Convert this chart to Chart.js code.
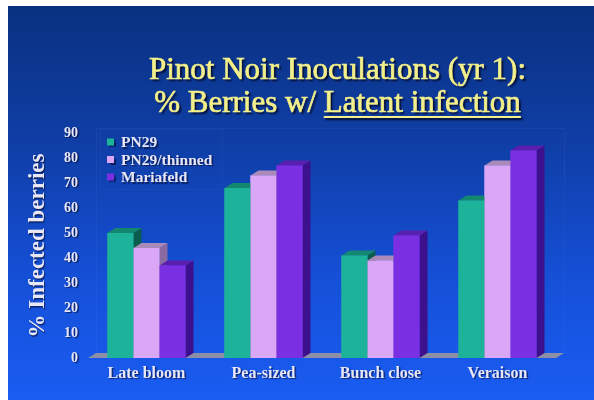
<!DOCTYPE html>
<html>
<head>
<meta charset="utf-8">
<script src="https://cdn.jsdelivr.net/npm/chart.js@4/dist/chart.umd.min.js"></script>
<style>
  html, body { margin: 0; padding: 0; background: #ffffff; }
  #slide { position: absolute; left: 8px; top: 6px; width: 586px; height: 394px;
    background: linear-gradient(to bottom, #0a3180 0%, #0f3ea6 35%, #1550d8 70%, #1a5cf2 100%); }
  #wrap { position: absolute; left: 0; top: 0; width: 594px; height: 400px; }
</style>
</head>
<body>
<div id="slide"></div>
<div id="wrap"><canvas id="c" width="594" height="400"></canvas></div>
<script>
// ---- data ----
const categories = ["Late bloom", "Pea-sized", "Bunch close", "Veraison"];
const seriesNames = ["PN29", "PN29/thinned", "Mariafeld"];
const pn29 = [50, 68, 41, 63];
const pn29Thinned = [44, 73, 39, 77];
const mariafeld = [37, 77, 49, 83];
const yTicks = [0, 10, 20, 30, 40, 50, 60, 70, 80, 90];
const titleLines = ["Pinot Noir Inoculations (yr 1):", "% Berries w/ Latent infection"];
const underlinedText = "Latent infection";
const yAxisTitle = "% Infected berries";

// ---- styles ----
const SERIF = "'Liberation Serif', 'Times New Roman', serif";
const frontColors = ["#1db39b", "#daa6f6", "#7b2fe2"];
const topColors = ["#13876f", "#a98ab9", "#5a1fae"];
const sideColors = ["#0c5c4e", "#8a6aa0", "#3d118e"];
const DX = 8, DY = 5;
const TEXT_COLOR = "#e9e7f6";

const threeD = {
  id: "threeD",
  beforeDraw(chart) {
    const ctx = chart.ctx;
    ctx.save();
    ctx.shadowColor = "rgba(0,0,25,0.55)";
    ctx.shadowOffsetX = 1.5;
    ctx.shadowOffsetY = 1.5;
    ctx.shadowBlur = 1;
  },
  beforeDatasetsDraw(chart) {
    const ctx = chart.ctx;
    ctx.restore();
    const a = chart.chartArea;
    const y0 = chart.scales.y.getPixelForValue(0);
    // back wall (faint)
    ctx.save();
    ctx.strokeStyle = "rgba(120,150,230,0.09)";
    ctx.lineWidth = 1;
    ctx.strokeRect(a.left + DX + 0.5, a.top - DY + 0.5, a.right - a.left, y0 - a.top);
    // floor
    ctx.fillStyle = "#8c8fa6";
    ctx.beginPath();
    ctx.moveTo(a.left, y0);
    ctx.lineTo(a.left + DX, y0 - DY);
    ctx.lineTo(a.right + DX, y0 - DY);
    ctx.lineTo(a.right, y0);
    ctx.closePath();
    ctx.fill();
    ctx.restore();
  },
  afterDatasetsDraw(chart) {
    const ctx = chart.ctx;
    ctx.save();
    const n = chart.data.labels.length;
    for (let j = 0; j < n; j++) {
      chart.data.datasets.forEach((ds, i) => {
        const el = chart.getDatasetMeta(i).data[j];
        const p = el.getProps(["x", "y", "base", "width"], true);
        const l = p.x - p.width / 2, r = p.x + p.width / 2;
        const t = p.y, b = p.base;
        ctx.fillStyle = sideColors[i];
        ctx.beginPath();
        ctx.moveTo(r, t); ctx.lineTo(r + DX, t - DY); ctx.lineTo(r + DX, b - DY); ctx.lineTo(r, b);
        ctx.closePath(); ctx.fill();
        ctx.fillStyle = topColors[i];
        ctx.beginPath();
        ctx.moveTo(l, t); ctx.lineTo(l + DX, t - DY); ctx.lineTo(r + DX, t - DY); ctx.lineTo(r, t);
        ctx.closePath(); ctx.fill();
        ctx.fillStyle = frontColors[i];
        ctx.fillRect(l, t, r - l, b - t);
      });
    }
    ctx.restore();
  },
  afterDraw(chart) {
    const ctx = chart.ctx;
    ctx.save();
    // title
    const cx = 337.5;
    ctx.font = "31px " + SERIF;
    ctx.textAlign = "center";
    ctx.textBaseline = "alphabetic";
    const baselines = [79, 112];
    ctx.shadowColor = "rgba(0,0,20,0.85)";
    ctx.shadowOffsetX = 2;
    ctx.shadowOffsetY = 2;
    ctx.shadowBlur = 2;
    ctx.fillStyle = "#f3ef8a";
    ctx.strokeStyle = "#f3ef8a";
    ctx.lineWidth = 0.7;
    titleLines.forEach((line, k) => {
      ctx.fillText(line, cx, baselines[k]);
    });
    ctx.shadowColor = "transparent";
    titleLines.forEach((line, k) => {
      ctx.strokeText(line, cx, baselines[k]);
    });
    ctx.shadowColor = "rgba(0,0,20,0.85)";
    // underline
    const full = ctx.measureText(titleLines[1]).width;
    const idx = titleLines[1].indexOf(underlinedText);
    const pre = ctx.measureText(titleLines[1].slice(0, idx)).width;
    const uw = ctx.measureText(underlinedText).width;
    const x0 = cx - full / 2 + pre;
    ctx.fillRect(x0, baselines[1] + 4, uw, 2);
    // legend
    ctx.shadowColor = "rgba(0,0,25,0.55)";
    ctx.shadowOffsetX = 1.5;
    ctx.shadowOffsetY = 1.5;
    ctx.shadowBlur = 1;
    ctx.font = "bold 15.5px " + SERIF;
    ctx.textAlign = "left";
    ctx.textBaseline = "middle";
    const rows = [142, 159.5, 177];
    chart.data.datasets.forEach((ds, i) => {
      ctx.fillStyle = frontColors[i];
      ctx.fillRect(107, rows[i] - 3.5, 7, 7);
      ctx.fillStyle = TEXT_COLOR;
      ctx.fillText(ds.label, 121, rows[i] + 1);
    });
    ctx.shadowColor = "transparent";
    ctx.strokeStyle = "rgba(120,150,230,0.07)";
    ctx.lineWidth = 1;
    ctx.strokeRect(100.5, 129.5, 122, 60);
    ctx.restore();
  }
};

new Chart(document.getElementById("c"), {
  type: "bar",
  data: {
    labels: categories,
    datasets: [
      { label: seriesNames[0], data: pn29, backgroundColor: frontColors[0] },
      { label: seriesNames[1], data: pn29Thinned, backgroundColor: frontColors[1] },
      { label: seriesNames[2], data: mariafeld, backgroundColor: frontColors[2] }
    ]
  },
  options: {
    responsive: false,
    animation: false,
    layout: { padding: { top: 133, right: 38, bottom: 0, left: 0 } },
    datasets: { bar: { barPercentage: 1.0, categoryPercentage: 0.667, borderWidth: 0 } },
    plugins: {
      legend: { display: false },
      title: { display: false },
      tooltip: { enabled: false }
    },
    scales: {
      x: {
        grid: { display: false, drawTicks: false },
        border: { display: false },
        ticks: { color: TEXT_COLOR, padding: 6, font: { family: SERIF, size: 16, weight: "bold" } },
        afterFit(s) { s.height = 42; }
      },
      y: {
        min: 0,
        max: 90,
        grid: { display: false, drawTicks: false },
        border: { display: false },
        afterBuildTicks(s) { s.ticks = yTicks.map(v => ({ value: v })); },
        ticks: { color: TEXT_COLOR, padding: 10, font: { family: SERIF, size: 14, weight: "bold" } },
        title: {
          display: true,
          text: yAxisTitle,
          color: TEXT_COLOR,
          padding: { top: 24, bottom: 0 },
          font: { family: SERIF, size: 23, weight: "bold" }
        },
        afterFit(s) { s.width = 88; }
      }
    }
  },
  plugins: [threeD]
});
</script>
</body>
</html>
